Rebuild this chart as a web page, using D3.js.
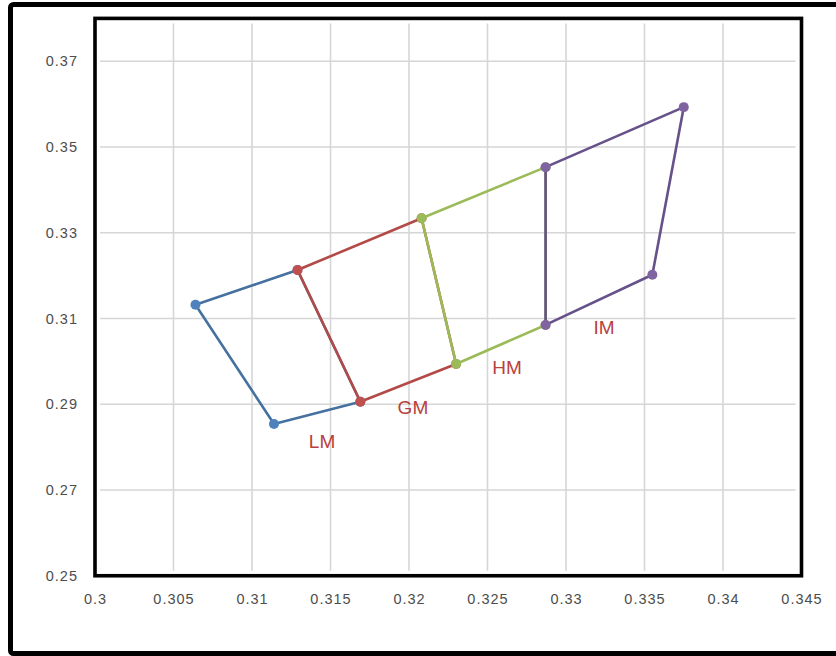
<!DOCTYPE html>
<html>
<head>
<meta charset="utf-8">
<script src="https://cdn.jsdelivr.net/npm/d3@7/dist/d3.min.js"></script>
<style>
  html, body { margin: 0; padding: 0; background: #fff; }
  svg { display: block; }
</style>
</head>
<body>
<svg id="chart" width="836" height="656"></svg>
<script>
// ---- data ----
const seriesNames = ["LM", "GM", "HM", "IM"];
const lmX = [0.3064, 0.3129, 0.3169, 0.3114, 0.3064];
const lmY = [0.3132, 0.3213, 0.2906, 0.2854, 0.3132];
const gmX = [0.3129, 0.3208, 0.3230, 0.3169, 0.3129];
const gmY = [0.3213, 0.3334, 0.2994, 0.2906, 0.3213];
const hmX = [0.3208, 0.3287, 0.3287, 0.3230, 0.3208];
const hmY = [0.3334, 0.3453, 0.3085, 0.2994, 0.3334];
const imX = [0.3287, 0.3375, 0.3355, 0.3287, 0.3287];
const imY = [0.3453, 0.3593, 0.3202, 0.3085, 0.3453];
const labelX = [0.31446, 0.32025, 0.32624, 0.33242];
const labelY = [0.2812, 0.28913, 0.29869, 0.30802];
const xTicks = [0.3, 0.305, 0.31, 0.315, 0.32, 0.325, 0.33, 0.335, 0.34, 0.345];
const xTickLabels = ["0.3", "0.305", "0.31", "0.315", "0.32", "0.325", "0.33", "0.335", "0.34", "0.345"];
const yTicks = [0.25, 0.27, 0.29, 0.31, 0.33, 0.35, 0.37];
const yTickLabels = ["0.25", "0.27", "0.29", "0.31", "0.33", "0.35", "0.37"];

const lineColors = ["#46719f", "#b24a47", "#9bbb59", "#66518a"];
const markerColors = ["#4F81BD", "#C0504D", "#9BBB59", "#8064A2"];

const seriesData = [[lmX, lmY], [gmX, gmY], [hmX, hmY], [imX, imY]].map(([xs, ys]) =>
  xs.map((x, i) => ({ x: x, y: ys[i] })));

// ---- layout ----
const svg = d3.select("#chart");
const L = 95, R = 801.5, T = 18.4, B = 575.75;
const x = d3.scaleLinear().domain([0.3, 0.345]).range([L, R]);
const y = d3.scaleLinear().domain([0.25, 0.38]).range([B, T]);

// outer frame
svg.append("rect")
  .attr("x", 10.5).attr("y", 4.5).attr("width", 840).attr("height", 649)
  .attr("rx", 3)
  .attr("fill", "#fff").attr("stroke", "#000").attr("stroke-width", 5);

// grid
const grid = svg.append("g");
grid.selectAll("line.h").data(yTicks.slice(1)).enter().append("line")
  .attr("x1", L + 5).attr("x2", R - 6)
  .attr("y1", d => y(d)).attr("y2", d => y(d))
  .attr("stroke", "#d6d6d6").attr("stroke-width", 1.6);
grid.selectAll("line.v").data(xTicks.slice(1, -1)).enter().append("line")
  .attr("y1", T + 5).attr("y2", B - 5)
  .attr("x1", d => x(d)).attr("x2", d => x(d))
  .attr("stroke", "#d6d6d6").attr("stroke-width", 1.6);

// axes labels via d3 axes
const xAxis = d3.axisBottom(x).tickValues(xTicks).tickSize(0).tickPadding(18)
  .tickFormat((d, i) => xTickLabels[i]);
const yAxis = d3.axisLeft(y).tickValues(yTicks).tickSize(0).tickPadding(17)
  .tickFormat((d, i) => yTickLabels[i]);

const gx = svg.append("g").attr("transform", `translate(0,${B})`).call(xAxis);
const gy = svg.append("g").attr("transform", `translate(${L},0)`).call(yAxis);
[gx, gy].forEach(g => {
  g.select(".domain").remove();
  g.selectAll("text")
    .attr("font-family", "Liberation Sans, Arial, sans-serif")
    .attr("font-size", 14.5)
    .attr("letter-spacing", "1px")
    .attr("fill", "#4d4d4d");
});

// plot frame
svg.append("rect")
  .attr("x", L).attr("y", T).attr("width", R - L).attr("height", B - T)
  .attr("fill", "none").attr("stroke", "#000").attr("stroke-width", 3.6);

// series
const line = d3.line().x(d => x(d.x)).y(d => y(d.y));
seriesData.forEach((pts, si) => {
  const g = svg.append("g").attr("class", "series-" + seriesNames[si]);
  g.append("path").datum(pts)
    .attr("d", line)
    .attr("fill", "none")
    .attr("stroke", lineColors[si])
    .attr("stroke-width", 2.6)
    .attr("stroke-linejoin", "round");
  g.selectAll("circle").data(pts.slice(0, -1)).enter().append("circle")
    .attr("cx", d => x(d.x)).attr("cy", d => y(d.y))
    .attr("r", 5)
    .attr("fill", markerColors[si]);
});

// labels
svg.append("g").selectAll("text").data(seriesNames).enter().append("text")
  .attr("x", (d, i) => x(labelX[i]))
  .attr("y", (d, i) => y(labelY[i]))
  .attr("text-anchor", "middle")
  .attr("dominant-baseline", "central")
  .attr("font-family", "Liberation Sans, Arial, sans-serif")
  .attr("font-size", 19)
  .attr("fill", "#b8403d")
  .text(d => d);
</script>
</body>
</html>
